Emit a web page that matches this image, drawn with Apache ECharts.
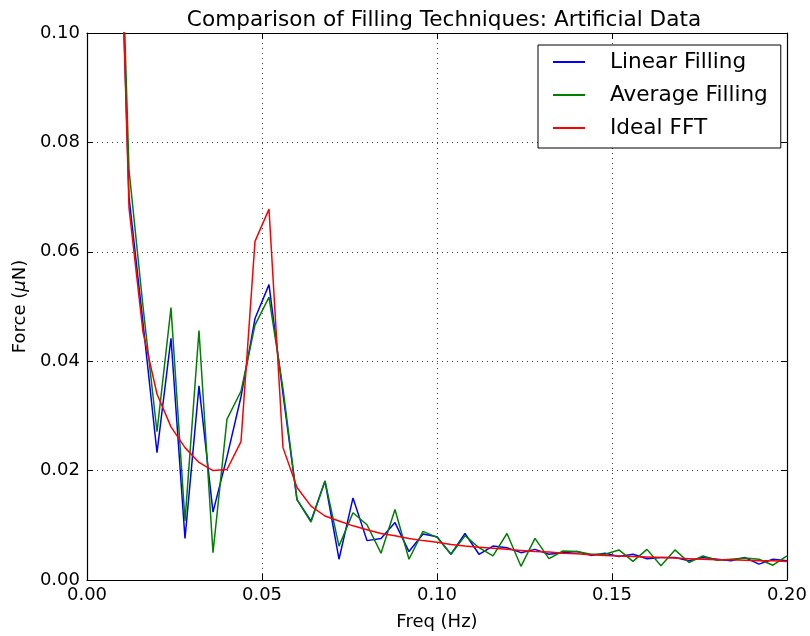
<!DOCTYPE html>
<html>
<head>
<meta charset="utf-8">
<script src="https://cdn.jsdelivr.net/npm/echarts@6/dist/echarts.min.js"></script>
<style>html,body{margin:0;padding:0;background:#fff}#c{width:810px;height:636px}</style>
</head>
<body>
<div id="c"></div>
<script>
const freq = [0.008,0.012,0.016,0.020,0.024,0.028,0.032,0.036,0.040,0.044,0.048,0.052,0.056,0.060,0.064,0.068,0.072,0.076,0.080,0.084,0.088,0.092,0.096,0.100,0.104,0.108,0.112,0.116,0.120,0.124,0.128,0.132,0.136,0.140,0.144,0.148,0.152,0.156,0.160,0.164,0.168,0.172,0.176,0.180,0.184,0.188,0.192,0.196,0.200];
const linearFilling = [0.155,0.070,0.047,0.0233,0.0442,0.0076,0.0355,0.0124,0.0225,0.0335,0.0478,0.0540,0.0340,0.0147,0.0108,0.0181,0.0038,0.0150,0.0072,0.0076,0.0105,0.0052,0.0084,0.0079,0.0047,0.0085,0.0047,0.0062,0.0059,0.0050,0.0056,0.0047,0.0050,0.0052,0.0045,0.0049,0.0043,0.0047,0.0039,0.0041,0.0041,0.0035,0.0041,0.0038,0.0035,0.0041,0.0029,0.0038,0.0035];
const averageFilling = [0.158,0.075,0.050,0.0271,0.0498,0.0108,0.0456,0.0050,0.0294,0.0345,0.0466,0.0517,0.0350,0.0147,0.0106,0.0181,0.0062,0.0123,0.0101,0.0049,0.0129,0.0038,0.0089,0.0078,0.0047,0.0081,0.0059,0.0044,0.0085,0.0025,0.0076,0.0039,0.0053,0.0052,0.0047,0.0047,0.0055,0.0034,0.0056,0.0026,0.0055,0.0032,0.0044,0.0036,0.0038,0.0040,0.0038,0.0027,0.0044];
const idealFFT = [0.157,0.068,0.0453,0.034,0.028,0.0242,0.0215,0.0200,0.0202,0.0253,0.0619,0.0678,0.0242,0.0169,0.0135,0.0117,0.0108,0.0099,0.0092,0.0085,0.0081,0.0076,0.0072,0.0069,0.0065,0.0062,0.0060,0.0058,0.0056,0.0054,0.0052,0.0051,0.0049,0.0048,0.0046,0.0045,0.0044,0.0043,0.0042,0.0041,0.0040,0.0039,0.0038,0.0037,0.0037,0.0036,0.0035,0.0035,0.0034];
const seriesNames = ['Linear Filling','Average Filling','Ideal FFT'];

const FONT = 'DejaVu Sans';
function pairs(ys){ return freq.map((f,i)=>[f, ys[i]]); }
const chart = echarts.init(document.getElementById('c'), null, {renderer:'canvas'});
const tickStyle = {show:true, inside:true, length:6, lineStyle:{color:'#000', width:1}};
const split = {show:true, lineStyle:{color:'#444', type:[1,4], width:1}};
chart.setOption({
  animation:false,
  backgroundColor:'#fff',
  title:{text:'Comparison of Filling Techniques: Artificial Data', left:439, top:4, textAlign:'center',
    textStyle:{fontFamily:FONT, fontSize:21.6, fontWeight:'normal', color:'#000'}},
  grid:{left:87, right:19, top:33, bottom:55, show:false},
  legend:{
    data:seriesNames, orient:'vertical', left:538, top:45,
    padding:[6,13,9,15], itemGap:11, itemWidth:32, itemHeight:2, icon:'rect',
    backgroundColor:'#fff', borderColor:'#000', borderWidth:1,
    textStyle:{fontFamily:FONT, fontSize:21.6, color:'#000', lineHeight:21.6, padding:[0,0,0,20]}
  },
  xAxis:[
    {type:'value', min:0, max:0.2, interval:0.05, position:'bottom',
     name:'Freq (Hz)', nameLocation:'middle', nameGap:33,
     nameTextStyle:{fontFamily:FONT, fontSize:18, color:'#000'},
     axisLine:{show:true, onZero:false, lineStyle:{color:'#000', width:1.2}},
     axisTick:tickStyle, splitLine:split,
     axisLabel:{fontFamily:FONT, fontSize:18, color:'#000', margin:6, formatter:v=>v.toFixed(2)}},
    {type:'value', min:0, max:0.2, interval:0.05, position:'top',
     axisLine:{show:true, onZero:false, lineStyle:{color:'#000', width:1.2}},
     axisTick:tickStyle, splitLine:{show:false}, axisLabel:{show:false}}
  ],
  yAxis:[
    {type:'value', min:0, max:0.1, interval:0.02, position:'left',
     name:'{a|Force (}{i|μ}{a|N)}', nameLocation:'middle', nameGap:58, nameRotate:90,
     nameTextStyle:{rich:{a:{fontFamily:FONT, fontSize:18, color:'#000'}, i:{fontFamily:FONT, fontSize:18, fontStyle:'italic', color:'#000'}}},
     axisLine:{show:true, onZero:false, lineStyle:{color:'#000', width:1.2}},
     axisTick:tickStyle, splitLine:split,
     axisLabel:{fontFamily:FONT, fontSize:18, color:'#000', margin:7, formatter:v=>v.toFixed(2)}},
    {type:'value', min:0, max:0.1, interval:0.02, position:'right',
     axisLine:{show:true, onZero:false, lineStyle:{color:'#000', width:1.2}},
     axisTick:tickStyle, splitLine:{show:false}, axisLabel:{show:false}}
  ],
  series:[
    {name:seriesNames[0], type:'line', data:pairs(linearFilling), symbol:'none', clip:true,
     lineStyle:{color:'#0000ff', width:1.5}, itemStyle:{color:'#0000ff'}},
    {name:seriesNames[1], type:'line', data:pairs(averageFilling), symbol:'none', clip:true,
     lineStyle:{color:'#008000', width:1.5}, itemStyle:{color:'#008000'}},
    {name:seriesNames[2], type:'line', data:pairs(idealFFT), symbol:'none', clip:true,
     lineStyle:{color:'#ff0000', width:1.5}, itemStyle:{color:'#ff0000'}}
  ]
});
</script>
</body>
</html>
